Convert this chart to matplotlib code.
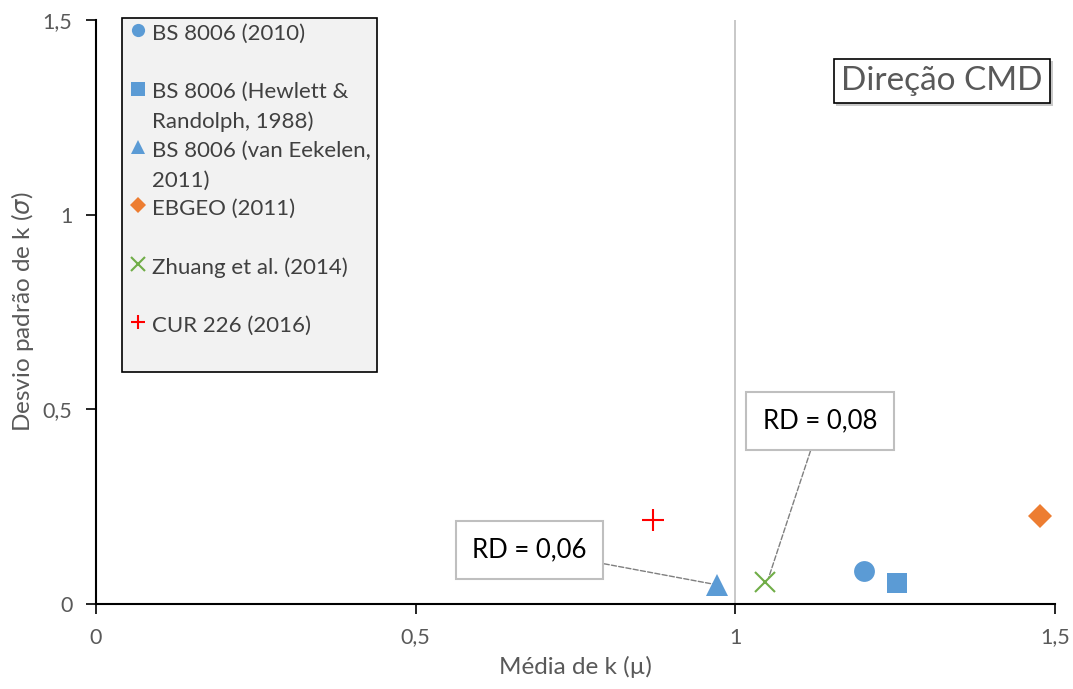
import matplotlib
matplotlib.use('Agg')
import matplotlib.pyplot as plt
from matplotlib.lines import Line2D
from matplotlib.legend_handler import HandlerLine2D
import matplotlib.patheffects as pe

plt.rcParams['font.family'] = ['Lato', 'DejaVu Sans']

# mean (mu) and std (sigma) of k for each method
labels = ['BS 8006 (2010)', 'BS 8006 (Hewlett &\nRandolph, 1988)',
          'BS 8006 (van Eekelen,\n2011)', 'EBGEO (2011)',
          'Zhuang et al. (2014)', 'CUR 226 (2016)']
mu = [1.202, 1.253, 0.972, 1.476, 1.047, 0.872]
sigma = [0.085, 0.054, 0.050, 0.226, 0.057, 0.216]
markers = ['o', 's', '^', 'D', 'x', '+']
colors = ['#5b9bd5', '#5b9bd5', '#5b9bd5', '#ed7d31', '#70ad47', '#ff0000']
sizes = [15, 14.5, 16, 12, 14, 16]

fig = plt.figure(figsize=(10.73, 6.89), dpi=100)
ax = fig.add_axes([0.0895, 0.1234, 0.8937, 0.8476])

for i in range(len(mu)):
    filled = markers[i] not in ('x', '+')
    ax.plot(mu[i], sigma[i], linestyle='none', marker=markers[i],
            markersize=sizes[i], color=colors[i],
            markeredgewidth=1.5 if not filled else 0, label=labels[i],
            zorder=5, clip_on=False)

# vertical reference line at mu = 1
ax.axvline(1.0, color='#bfbfbf', lw=1.2, zorder=1)

ax.set_xlim(0, 1.5)
ax.set_ylim(0, 1.5)
ax.set_xticks([0, 0.5, 1, 1.5])
ax.set_xticklabels(['0', '0,5', '1', '1,5'])
ax.set_yticks([0, 0.5, 1, 1.5])
ax.set_yticklabels(['0', '0,5', '1', '1,5'])
for s in ['top', 'right']:
    ax.spines[s].set_visible(False)
for s in ['left', 'bottom']:
    ax.spines[s].set_color('black')
    ax.spines[s].set_linewidth(1.5)
ax.tick_params(axis='both', direction='out', length=7, width=1.2,
               labelsize=15.5, labelcolor='#595959', pad=10)
ax.set_xlabel('Média de k (µ)', fontsize=17.5, color='#595959', labelpad=6)
ax.set_ylabel('Desvio padrão de k ($\\sigma$)', fontsize=17.5, color='#595959', labelpad=5)


class FirstLineHandler(HandlerLine2D):
    # put the marker next to the first line of the label
    def create_artists(self, legend, orig_handle, xdescent, ydescent,
                       width, height, fontsize, trans):
        arts = super().create_artists(legend, orig_handle, xdescent, ydescent,
                                      width, height, fontsize, trans)
        for a in arts:
            a.set_ydata([y + 13.4 for y in a.get_ydata()])
        return arts


leg_labels = [l if '\n' in l else l + '\n ' for l in labels]
leg_handles = []
for i in range(len(mu)):
    filled = markers[i] not in ('x', '+')
    leg_handles.append(Line2D([], [], linestyle='none', marker=markers[i],
                              markersize=9.5 if markers[i] != 'D' else 8,
                              color=colors[i],
                              markeredgewidth=1.5 if not filled else 0))
leg = ax.legend(leg_handles, leg_labels, loc='upper left',
                bbox_to_anchor=(0.0271, 1.004), frameon=True, fancybox=False,
                fontsize=16, labelcolor='#404040', handlelength=0.8,
                handletextpad=0.25, labelspacing=0.40, borderpad=0.3,
                borderaxespad=0, handler_map={Line2D: FirstLineHandler()})
for t in leg.get_texts():
    t.set_linespacing(1.57)
leg.get_frame().set_facecolor('#f2f2f2')
leg.get_frame().set_edgecolor('black')
leg.get_frame().set_linewidth(1.2)
leg.get_frame().set_alpha(1)

# title box
ax.text(0.987, 0.8955, 'Direção CMD', transform=ax.transAxes, ha='right', va='center',
        fontsize=24, color='#595959',
        bbox=dict(boxstyle='square,pad=0.22', facecolor='white', edgecolor='black',
                  lw=1.2, path_effects=[pe.withSimplePatchShadow(offset=(2, -2))]))

# RD annotations
ax.annotate('RD = 0,06', xy=(mu[2], 0.049), xytext=(0.678, 0.139),
            fontsize=18.5, ha='center', va='center',
            bbox=dict(boxstyle='square,pad=0.65', facecolor='white', edgecolor='#bfbfbf', lw=1.5),
            arrowprops=dict(arrowstyle='-', linestyle='--', color='#7f7f7f', lw=1,
                            shrinkA=0, shrinkB=0))
ax.annotate('RD = 0,08', xy=(1.052, 0.067), xytext=(1.133, 0.470),
            fontsize=18.5, ha='center', va='center',
            bbox=dict(boxstyle='square,pad=0.65', facecolor='white', edgecolor='#bfbfbf', lw=1.5),
            arrowprops=dict(arrowstyle='-', linestyle='--', color='#7f7f7f', lw=1,
                            shrinkA=0, shrinkB=0))

fig.savefig('out.png', dpi=100)
